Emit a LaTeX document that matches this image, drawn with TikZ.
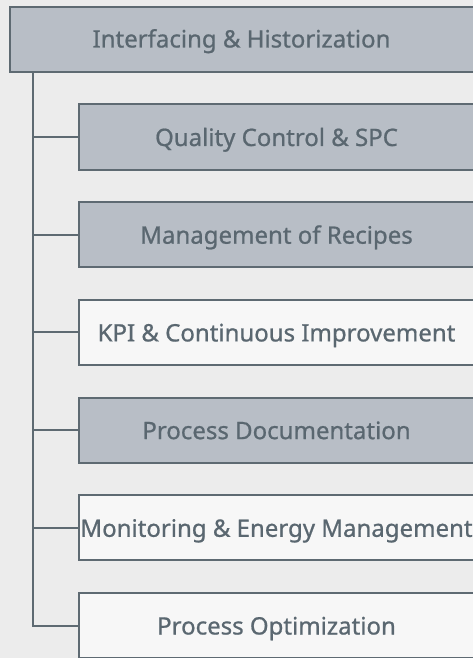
\documentclass[tikz,border=0pt]{standalone}
\usepackage{fontspec}
\setmainfont{Noto Sans}[FakeBold=0.8]
\newfontfamily\lblfont{Noto Sans}[FakeBold=0.8]
\definecolor{bgc}{HTML}{ECECEC}
\definecolor{edge}{HTML}{5E6A72}
\definecolor{txt}{HTML}{5A6770}
\definecolor{grayfill}{HTML}{B8BEC6}
\definecolor{whitefill}{HTML}{F7F7F7}
\tikzset{
  x=1pt,y=-1pt,
  box/.style={draw=edge, line width=2pt, text=txt, anchor=north west, minimum height=65pt, inner sep=0pt},
  lbl/.style={text=txt, font=\lblfont\bfseries\fontsize{24}{28}\selectfont, inner sep=0pt, anchor=base},
  rootbox/.style={box, fill=grayfill, minimum width=470pt},
  graybox/.style={box, fill=grayfill, minimum width=400pt},
  whitebox/.style={box, fill=whitefill, minimum width=400pt},
  link/.style={draw=edge, line width=2pt}
}
\begin{document}
\begin{tikzpicture}
\useasboundingbox (0,0) rectangle (473,658);
\fill[bgc] (0,0) rectangle (473,658);
\clip (0,0) rectangle (473,658);
\node[rootbox] (root) at (9,6) {};
\node[lbl] (roott) at (241.5,47.5) {Interfacing \& Historization};
\node[graybox] (c1) at (78,103.5) {};
\node[graybox] (c2) at (78,201.2) {};
\node[whitebox] (c3) at (78,298.9) {};
\node[graybox] (c4) at (78,396.6) {};
\node[whitebox] (c5) at (78,494.3) {};
\node[whitebox] (c6) at (78,592) {};
\foreach \n/\t in {c1/{Quality Control \& SPC},c2/{Management of Recipes},c3/{KPI \& Continuous Improvement},c4/{Process Documentation},c5/{Monitoring \& Energy Management},c6/{Process Optimization}}{
  \node[lbl] (\n t) at ([xshift=198.5pt,yshift=-9pt]\n.west) {\t};
}
\coordinate (trunk) at (33,0);
\draw[link] (trunk |- root.south) -- (trunk |- c6.west) -- (c6.west);
\foreach \n in {c1,c2,c3,c4,c5}{
  \draw[link] (trunk |- \n.west) -- (\n.west);
}
\end{tikzpicture}
\end{document}
